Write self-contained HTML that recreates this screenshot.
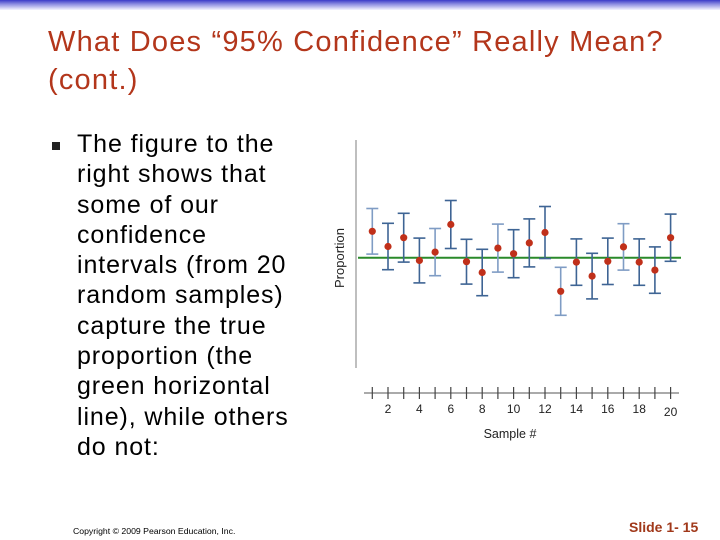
<!DOCTYPE html>
<html><head><meta charset="utf-8"><style>
body{margin:0;width:720px;height:540px;overflow:hidden;background:#fff;font-family:"Liberation Sans",Arial,sans-serif;position:relative}
.top{position:absolute;left:0;top:0;width:720px;height:10px;background:linear-gradient(#3a3ac8,#8a8ae0 40%,#f4f4ff)}
.title{position:absolute;left:48px;top:23px;font-size:29px;letter-spacing:1.2px;line-height:38px;color:#b3361b;white-space:nowrap}
.bullet{position:absolute;left:52px;top:142px;width:8px;height:8px;background:#222}
.body{position:absolute;left:77px;top:129px;font-size:25px;letter-spacing:0.9px;line-height:30.3px;color:#000;white-space:nowrap}
.copy{position:absolute;left:73px;top:526px;font-size:8.7px;color:#000}
.slide{position:absolute;left:629px;top:519px;font-size:14px;font-weight:bold;color:#a0381a}
svg{position:absolute;left:0;top:0}
</style></head><body>
<div class="top"></div>
<div class="title">What Does “95% Confidence” Really Mean?<br>(cont.)</div>
<div class="bullet"></div>
<div class="body">The figure to the<br>right shows that<br>some of our<br>confidence<br>intervals (from 20<br>random samples)<br>capture the true<br>proportion (the<br>green horizontal<br>line), while others<br>do not:</div>
<div class="copy">Copyright © 2009 Pearson Education, Inc.</div>
<div class="slide">Slide 1- 15</div>
<svg id="chart" width="720" height="540"></svg>
<script>
const samples=[1,2,3,4,5,6,7,8,9,10,11,12,13,14,15,16,17,18,19,20];
const estimates=[0.566,0.528,0.55,0.493,0.514,0.583,0.49,0.463,0.524,0.51,0.537,0.563,0.416,0.489,0.454,0.491,0.527,0.489,0.469,0.55];
const margins=[0.057,0.058,0.061,0.056,0.059,0.06,0.056,0.058,0.06,0.06,0.06,0.065,0.06,0.058,0.057,0.058,0.058,0.058,0.058,0.059];
const trueP=0.5;
const tickLabels=[2,4,6,8,10,12,14,16,18,20];
const NS="http://www.w3.org/2000/svg";
const svg=document.getElementById('chart');
const xs=i=>372.3+(i-1)*15.7;
const ys=p=>257.7-(p-trueP)*400;
function mk(t,a){const e=document.createElementNS(NS,t);for(const k in a)e.setAttribute(k,a[k]);svg.appendChild(e);return e;}
let e;
e=mk('line',{x1:356,y1:140,x2:356,y2:368,stroke:'#aaa','stroke-width':1.5});


e=mk('text',{x:0,y:0,transform:'translate(344,258) rotate(-90)','text-anchor':'middle','font-size':13,fill:'#222','font-family':'Liberation Sans, sans-serif'});
e.textContent='Proportion';


e=mk('line',{x1:358,y1:ys(trueP),x2:681,y2:ys(trueP),stroke:'#2a8a2a','stroke-width':2});


samples.forEach((s,i)=>{
  const x=xs(s),t=ys(estimates[i]+margins[i]),b=ys(estimates[i]-margins[i]);
  const g=document.createElementNS(NS,'g');svg.appendChild(g);
  
  
  const col=(s%4===1)?'#7f9cc4':'#3e6494';
  [[x,t,x,b],[x-6,t,x+6,t],[x-6,b,x+6,b]].forEach(c=>{const l=document.createElementNS(NS,'line');l.setAttribute('x1',c[0]);l.setAttribute('y1',c[1]);l.setAttribute('x2',c[2]);l.setAttribute('y2',c[3]);l.setAttribute('stroke',col);l.setAttribute('stroke-width',1.6);g.appendChild(l);});
  const d=mk('circle',{cx:x,cy:ys(estimates[i]),r:3.6,fill:'#c0301a'});
  
  
});
e=mk('line',{x1:364,y1:393,x2:679,y2:393,stroke:'#777','stroke-width':1.2});


samples.forEach(s=>{const t=mk('line',{x1:xs(s),y1:387,x2:xs(s),y2:399,stroke:'#444','stroke-width':1.2});
  
  });
tickLabels.forEach(v=>{const t=mk('text',{x:xs(v),y:v===20?416:413,'text-anchor':'middle','font-size':12,fill:'#222','font-family':'Liberation Sans, sans-serif'});t.textContent=v;
  
  });
e=mk('text',{x:510,y:438,'text-anchor':'middle','font-size':12.5,fill:'#222','font-family':'Liberation Sans, sans-serif'});
e.textContent='Sample #';


</script>
</body></html>
